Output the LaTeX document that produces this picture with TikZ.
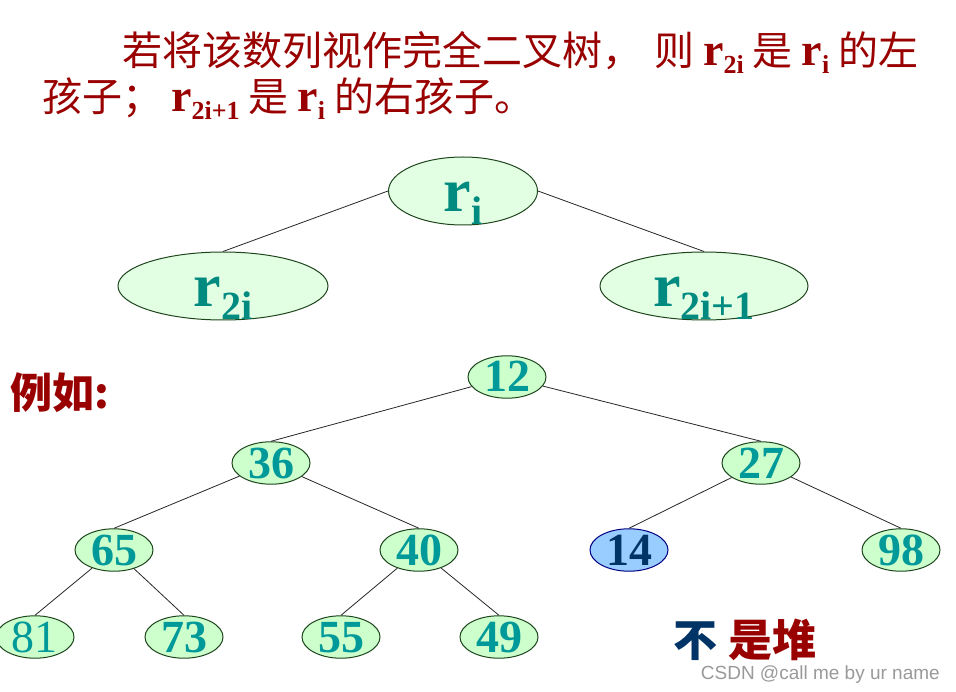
\documentclass[tikz,border=0pt]{standalone}
\usepackage{fontspec}
\setmainfont{Liberation Serif}
\setsansfont{Liberation Sans}
\newfontfamily\cjk{Noto Sans CJK SC}
\usetikzlibrary{shapes.geometric}

\definecolor{titlered}{HTML}{990000}
\definecolor{rteal}{HTML}{008A80}
\definecolor{numteal}{HTML}{009999}
\definecolor{nodefill}{HTML}{CCFFCC}
\definecolor{topfill}{HTML}{E3FFE3}
\definecolor{nodeline}{HTML}{1E461E}
\definecolor{navy}{HTML}{003366}
\definecolor{bluefill}{HTML}{99CCFF}
\definecolor{blueline}{HTML}{000080}

% r with a subscript, in the title and in the ellipses
\newcommand\rsub[1]{{\rmfamily\bfseries\fontsize{46}{46}\selectfont r\raisebox{-8pt}{\fontsize{26}{26}\selectfont #1}}}
\newcommand\rnode[1]{r\raisebox{-13pt}{\fontsize{40}{40}\selectfont #1}}

\begin{document}
\begin{tikzpicture}[x=1pt,y=-1pt,
		title/.style={inner sep=0pt,anchor=base west,text=titlered,font=\fontsize{40}{48}\selectfont\cjk},
		key/.style={ellipse,draw=nodeline,line width=1pt,fill=nodefill,minimum width=78pt,minimum height=42pt,inner sep=0pt,
			text=numteal,font=\fontsize{46}{46}\selectfont\bfseries,text height=30pt,text depth=0pt},
		badkey/.style={key,draw=blueline,fill=bluefill,text=navy},
		rbox/.style={ellipse,draw=nodeline,line width=1pt,fill=topfill,inner sep=0pt,minimum height=68pt,
			text=rteal,font=\fontsize{62}{62}\selectfont\bfseries,text height=42pt,text depth=0pt},
		link/.style={line width=0.8pt,black!85}]
	\useasboundingbox (0,0) rectangle (956,692);
	
	%title
	\node[title] (line1) at (122,66) {若将该数列视作完全二叉树，\hspace{12pt}则 \rsub{2i} 是 \rsub{i} 的左};
	\node[title] (line2) at (42,112) {孩子； \rsub{2i+1} 是 \rsub{i} 的右孩子。};
	
	%general tree
	\node[rbox,minimum width=149pt] (ri) at (463,191) {\rnode{i}};
	\node[rbox,minimum width=210pt] (rl) at (223,286) {\rnode{2i}};
	\node[rbox,minimum width=208pt] (rr) at (704,286) {\rnode{2i+1}};
	\draw[link] (ri.west) -- (rl.north);
	\draw[link] (ri.east) -- (rr.north);
	
	%example
	\node[text=titlered,font=\fontsize{42}{42}\selectfont\cjk\bfseries] (eg) at (60,393) {例如:};
	
	\node[key] (n12) at (507,377) {12};
	\node[key] (n36) at (271,463) {36};
	\node[key] (n27) at (761,463) {27};
	\node[key] (n65) at (114,550) {65};
	\node[key] (n40) at (419,550) {40};
	\node[badkey] (n14) at (629,550) {14};
	\node[key] (n98) at (901,550) {98};
	\node[key,font=\fontsize{46}{46}\selectfont] (n81) at (35,637) {81};
	\node[key] (n73) at (184,637) {73};
	\node[key] (n55) at (341,637) {55};
	\node[key] (n49) at (499,637) {49};
	
	\foreach \a/\b in {n12/n36, n12/n27, n36/n65, n36/n40, n27/n14, n27/n98, n65/n81, n65/n73, n40/n55, n40/n49}{
		\draw[link] (\a) -- (\b.north);
	}
	
	\node[text=titlered,font=\fontsize{44}{44}\selectfont\cjk\bfseries] (verdict) at (745,640) {{\color{navy}不} 是堆};
	
	\node[anchor=base east,inner sep=0pt,text=black!40,font=\fontsize{19}{19}\selectfont\sffamily] (mark) at (940,679) {CSDN @call me by ur name};
\end{tikzpicture}
\end{document}
